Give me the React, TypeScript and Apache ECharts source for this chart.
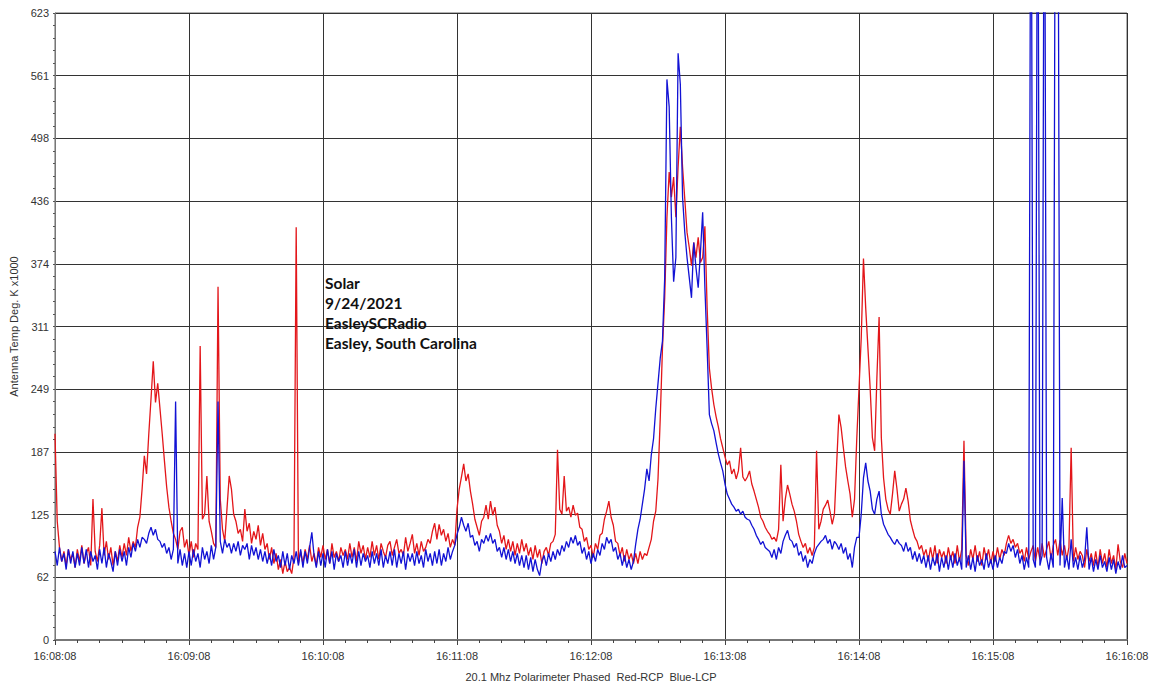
import { useEffect, useRef } from "react";
import * as echarts from "echarts";

const xTickLabels = ["16:08:08", "16:09:08", "16:10:08", "16:11:08", "16:12:08", "16:13:08", "16:14:08", "16:15:08", "16:16:08"];
const yTickLabels = ["0", "62", "125", "187", "249", "311", "374", "436", "498", "561", "623"];
const notes = ["Solar", "9/24/2021", "EasleySCRadio", "Easley, South Carolina"];

// one sample per second, starting at 16:08:08
const rcpRed = [
  205, 118, 92, 78, 88, 74, 90, 80, 86, 72,
  90, 78, 94, 76, 86, 92, 74, 140, 88, 78,
  94, 131, 84, 98, 80, 92, 74, 88, 78, 94,
  82, 96, 84, 102, 88, 98, 92, 112, 122, 150,
  183, 165, 205, 240, 277, 236, 255, 230, 205, 178,
  152, 132, 118, 106, 100, 90, 108, 112, 92, 100,
  84, 98, 82, 96, 90, 292, 120, 125, 163, 118,
  108, 96, 92, 351, 140, 110, 98, 130, 163, 150,
  125, 118, 106, 110, 98, 130, 108, 116, 96, 108,
  100, 114, 94, 106, 90, 96, 80, 92, 76, 86,
  70, 80, 66, 78, 68, 72, 66, 82, 410, 76,
  88, 76, 90, 80, 94, 78, 86, 74, 92, 82,
  94, 80, 90, 76, 96, 82, 88, 78, 92, 84,
  90, 80, 96, 82, 92, 78, 98, 86, 94, 80,
  92, 82, 98, 84, 94, 80, 96, 88, 82, 94,
  98, 84, 92, 100, 86, 90, 84, 102, 88, 96,
  105, 86, 96, 84, 98, 88, 92, 100, 96, 108,
  116, 100, 115, 104, 110, 98, 106, 92, 100, 94,
  130, 150, 162, 175, 158, 165, 148, 135, 120, 112,
  104, 118, 122, 134, 120, 138, 124, 132, 114, 108,
  96, 104, 90, 100, 88, 98, 84, 96, 86, 100,
  88, 96, 84, 92, 80, 94, 82, 90, 76, 88,
  92, 84, 96, 98, 105, 189, 130, 125, 163, 128,
  132, 122, 134, 124, 126, 112, 110, 98, 102, 90,
  94, 82, 96, 90, 104, 106, 120, 128, 138, 122,
  114, 98, 96, 84, 92, 78, 90, 80, 86, 76,
  86, 76, 88, 80, 86, 84, 92, 100, 118, 128,
  160, 220, 290, 340, 420, 465, 440, 460, 420, 470,
  510, 470, 438, 405, 390, 372, 395, 380, 400, 375,
  380, 411, 330, 270, 250, 234, 222, 212, 200, 191,
  182, 174, 178, 165, 170, 160, 168, 191, 162, 158,
  162, 168, 155, 148, 140, 132, 122, 118, 112, 108,
  105, 100, 102, 98, 110, 174, 118, 140, 154, 145,
  135, 128, 118, 105, 98, 92, 96, 86, 92, 84,
  92, 188, 110, 118, 130, 134, 139, 128, 115, 125,
  175, 224, 211, 191, 172, 158, 145, 122, 140, 200,
  250, 300, 379, 330, 290, 250, 201, 188, 260, 321,
  201, 161, 140, 130, 125, 145, 168, 150, 128, 135,
  140, 151, 138, 119, 110, 102, 98, 90, 94, 84,
  90, 78, 92, 80, 94, 76, 90, 82, 88, 76,
  92, 80, 88, 76, 94, 78, 90, 198, 84, 74,
  90, 80, 94, 78, 88, 74, 92, 80, 90, 76,
  88, 78, 92, 80, 90, 84, 96, 104, 96, 100,
  92, 96, 86, 90, 78, 92, 80, 88, 94, 78,
  92, 80, 96, 82, 90, 98, 80, 94, 100, 84,
  99, 84, 94, 80, 92, 191, 78, 92, 80, 88,
  84, 72, 90, 78, 86, 74, 88, 72, 90, 76,
  86, 72, 90, 76, 84, 70, 95, 78, 72, 86,
  76,
];

const lcpBlue = [
  88, 74, 92, 78, 86, 70, 90, 76, 88, 72,
  86, 74, 92, 76, 90, 72, 88, 78, 84, 70,
  90, 76, 92, 72, 86, 78, 68, 88, 74, 90,
  78, 88, 74, 92, 82, 96, 88, 100, 92, 102,
  100, 96, 106, 112, 104, 110, 100, 98, 92, 96,
  86, 92, 80, 90, 237, 76, 90, 74, 86, 72,
  88, 74, 90, 78, 86, 72, 92, 80, 88, 76,
  94, 80, 92, 237, 98, 86, 100, 92, 96, 86,
  96, 88, 98, 84, 94, 90, 96, 80, 94, 84,
  92, 80, 90, 78, 88, 76, 86, 74, 90, 78,
  84, 72, 88, 74, 86, 70, 84, 76, 88, 74,
  90, 72, 88, 76, 92, 107, 84, 72, 88, 74,
  86, 72, 90, 76, 88, 70, 86, 78, 84, 72,
  88, 74, 86, 76, 90, 72, 88, 74, 86, 78,
  84, 72, 88, 76, 86, 74, 90, 72, 84, 76,
  88, 74, 90, 72, 86, 76, 88, 70, 86, 78,
  86, 74, 88, 76, 84, 72, 90, 78, 86, 74,
  88, 76, 90, 74, 86, 78, 92, 80, 88, 94,
  105, 112, 122, 114, 108, 116, 102, 104, 94, 98,
  88, 100, 96, 104, 98, 106, 96, 100, 88, 92,
  82, 92, 80, 90, 78, 88, 76, 86, 74, 84,
  72, 84, 70, 82, 68, 80, 70, 64, 78, 84,
  74, 86, 78, 88, 80, 90, 84, 94, 88, 98,
  92, 102, 96, 104, 94, 98, 86, 92, 80, 88,
  76, 86, 78, 90, 84, 96, 90, 102, 96, 100,
  88, 92, 80, 86, 74, 84, 72, 80, 70, 78,
  95, 110, 120, 135, 150, 170, 158, 184, 200, 230,
  255, 280, 297, 360, 557, 530, 420, 356, 380, 583,
  552, 440, 405, 380, 360, 340, 395, 370, 350, 385,
  425, 350, 290, 224, 215, 208, 196, 185, 176, 168,
  155, 145, 140, 135, 132, 128, 130, 125, 128, 122,
  120, 119, 114, 110, 104, 100, 95, 98, 92, 90,
  88, 82, 90, 80, 92, 86, 98, 104, 109, 100,
  98, 92, 96, 84, 88, 78, 84, 72, 80, 76,
  86, 92, 95, 98, 100, 104, 96, 100, 90, 98,
  95, 90, 96, 86, 92, 80, 86, 72, 92, 102,
  102, 125, 161, 176, 158, 148, 130, 125, 140, 148,
  125, 115, 110, 105, 102, 98, 95, 100, 96, 94,
  88, 97, 88, 92, 80, 88, 78, 86, 76, 84,
  72, 84, 70, 82, 74, 86, 68, 82, 72, 84,
  70, 84, 72, 86, 74, 82, 70, 178, 72, 84,
  70, 82, 68, 84, 74, 80, 70, 86, 72, 80,
  70, 84, 72, 82, 76, 88, 86, 96, 88, 94,
  82, 90, 76, 84, 70, 82, 72, 900, 80, 72,
  900, 74, 84, 900, 82, 70, 86, 72, 900, 900,
  74, 141, 72, 84, 70, 100, 72, 82, 70, 84,
  72, 80, 112, 70, 82, 68, 80, 70, 84, 72,
  78, 68, 82, 70, 80, 66, 78, 70, 84, 72,
  74,
];

export default function App() {
  const ref = useRef<HTMLDivElement>(null);
  useEffect(() => {
    const chart = echarts.init(ref.current!, null, { renderer: "svg" });
    const toPairs = (arr: number[]) => arr.map((v, i) => [i, v]);
    chart.setOption({
      animation: false,
      backgroundColor: "#ffffff",
      grid: { left: 55, right: 28, top: 13, bottom: 44, show: true, borderColor: "#666", borderWidth: 1 },
      xAxis: {
        type: "value",
        min: 0,
        max: 480,
        interval: 60,
        name: "20.1 Mhz Polarimeter Phased  Red-RCP  Blue-LCP",
        nameLocation: "middle",
        nameGap: 31,
        nameTextStyle: { color: "#333", fontSize: 11, fontFamily: "Liberation Sans, Arial" },
        axisLine: { show: true, lineStyle: { color: "#777", width: 2 } },
        axisTick: { show: true, length: 5, lineStyle: { color: "#444" } },
        minorTick: { show: true, splitNumber: 6, length: 3, lineStyle: { color: "#444" } },
        axisLabel: {
          formatter: (v: number) => xTickLabels[Math.round(v / 60)] ?? "",
          color: "#333",
          fontSize: 11,
          fontFamily: "Liberation Sans, Arial",
          margin: 10,
        },
        splitLine: { show: true, lineStyle: { color: "#333", width: 1 } },
      },
      yAxis: {
        type: "value",
        min: 0,
        max: 623,
        interval: 62.3,
        name: "Antenna Temp Deg. K x1000",
        nameLocation: "middle",
        nameGap: 36,
        nameTextStyle: { color: "#333", fontSize: 11, fontFamily: "Liberation Sans, Arial" },
        axisLine: { show: true, lineStyle: { color: "#777", width: 1 } },
        axisTick: { show: true, length: 2, lineStyle: { color: "#555" } },
        minorTick: { show: true, splitNumber: 5, length: 2, lineStyle: { color: "#555" } },
        axisLabel: {
          formatter: (v: number) => yTickLabels[Math.round(v / 62.3)] ?? "",
          color: "#333",
          fontSize: 11,
          fontFamily: "Liberation Sans, Arial",
          margin: 6,
        },
        splitLine: { show: true, lineStyle: { color: "#333", width: 1 } },
      },
      series: [
        {
          name: "Red-RCP",
          type: "line",
          data: toPairs(rcpRed),
          showSymbol: false,
          symbol: "none",
          clip: true,
          lineStyle: { color: "#e3161a", width: 1.3 },
          z: 2,
        },
        {
          name: "Blue-LCP",
          type: "line",
          data: toPairs(lcpBlue),
          showSymbol: false,
          symbol: "none",
          clip: true,
          lineStyle: { color: "#1212d4", width: 1.3 },
          z: 3,
        },
      ],
      graphic: [
        {
          type: "text",
          left: 325,
          top: 273,
          z: 10,
          style: {
            text: notes.join("\n"),
            fill: "#111",
            font: "bold 15.5px Lato, 'Open Sans', sans-serif",
            lineHeight: 20,
          },
        },
      ],
    });
    return () => chart.dispose();
  }, []);
  return <div ref={ref} style={{ position: "absolute", left: 0, top: 0, width: 1155, height: 687 }} />;
}
